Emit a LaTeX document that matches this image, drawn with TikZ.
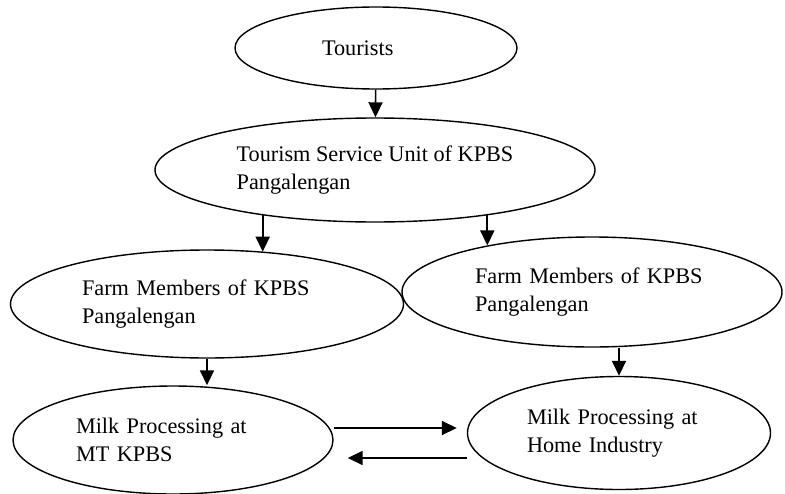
\documentclass[tikz,border=0pt]{standalone}
\usepackage{fontspec}
\setmainfont{Liberation Serif}
\usetikzlibrary{positioning, shapes.geometric, arrows.meta}

\begin{document}
\begin{tikzpicture}[x=0.3mm,y=-0.3mm]
	\tikzstyle{bubble}=[ellipse,draw=black,line width=1.2pt,inner sep=0pt,align=left,font=\fontsize{19}{24}\selectfont]
	\tikzstyle{arr}=[line width=1.4pt,-{Triangle[length=4.5mm,width=4.2mm]}]
	\useasboundingbox (0,0) rectangle (785,493);
	\node[bubble,minimum width=84.6mm,minimum height=24.6mm,text width=32.4mm](tour) at (376,48) {Tourists};
	\node[bubble,minimum width=132mm,minimum height=31.2mm](unit) at (375,170) {Tourism Service Unit of KPBS\\Pangalengan};
	\node[bubble,minimum width=117.9mm,minimum height=32.4mm,text width=75mm](farm1) at (207,304) {Farm Members of KPBS\\Pangalengan};
	\node[bubble,minimum width=114mm,minimum height=33mm,text width=70.2mm](farm2) at (592,292) {Farm Members of KPBS\\Pangalengan};
	\node[bubble,minimum width=96mm,minimum height=32.4mm,text width=58.2mm](milk1) at (173,440) {Milk Processing at\\MT KPBS};
	\node[bubble,minimum width=90.9mm,minimum height=33.9mm,text width=55.2mm](milk2) at (619,433) {Milk Processing at\\Home Industry};
	\path[arr]
		(tour) edge (unit);
	\draw[arr] (unit.202) -- (unit.202 |- farm1.42);
	\draw[arr] (unit.338) -- (unit.338 |- farm2.156);
	\draw[arr] (farm1.south) -- (farm1.south |- milk1.north);
	\draw[arr] (milk2.north |- farm2.south) -- (milk2.north);
	% exchange between the two processing units
	\coordinate (r1) at ([yshift=3.6mm]milk1.east);
	\coordinate (r2) at ([yshift=-5.4mm]milk1.east);
	\draw[arr,shorten >=3mm] (r1) -- (r1 -| milk2.west);
	\draw[arr,shorten >=4.2mm] (r2 -| milk2.west) -- (r2);
\end{tikzpicture}
\end{document}
